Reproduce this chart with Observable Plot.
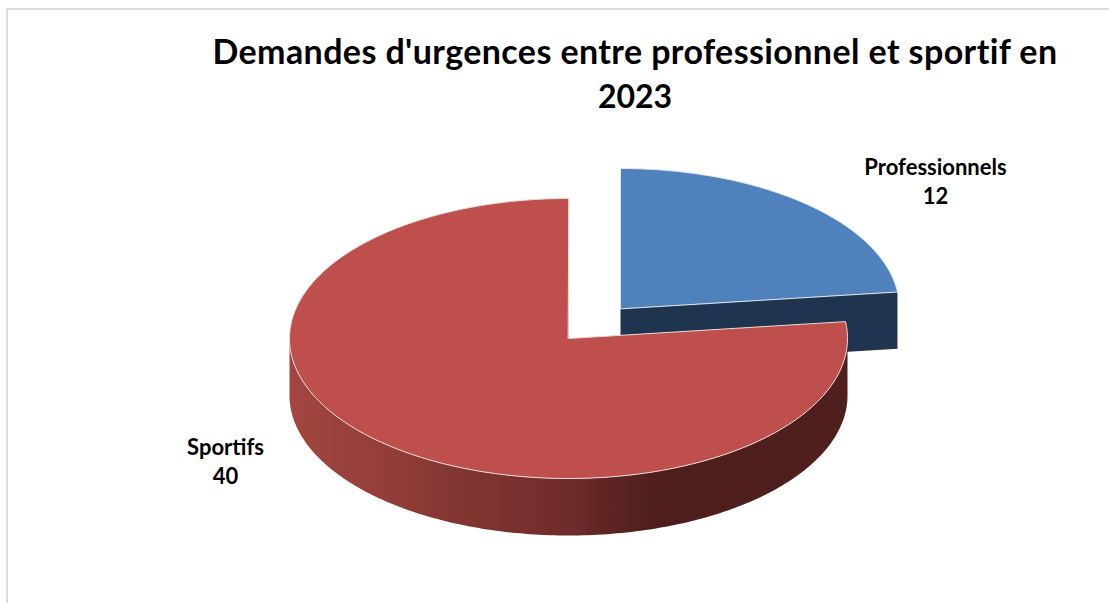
<!DOCTYPE html>
<html lang="fr">
<head>
<meta charset="utf-8">
<script src="https://cdn.jsdelivr.net/npm/d3@7"></script>
<script src="https://cdn.jsdelivr.net/npm/@observablehq/plot@0.6"></script>
<style>
  html, body { margin: 0; padding: 0; background: #fff; overflow: hidden; }
  #frame { position: absolute; left: 6px; top: 8px; width: 1103px; height: 595px;
           border-left: 2px solid #dcdcdc; border-top: 2px solid #dcdcdc; box-sizing: border-box; }
  #title { position: absolute; left: 0; top: 0; width: 1109px; height: 122px; box-sizing: border-box;
           padding: 29px 0 0 161px; text-align: center; font: 700 34px/44px Lato, sans-serif; letter-spacing: 0.4px; color: #000; }
  #title span { font-size: 32px; letter-spacing: 0; }
  #chart { position: absolute; left: 0; top: 122px; }
</style>
</head>
<body>
<div id="frame"></div>
<div id="title">Demandes d'urgences entre professionnel et sportif en<br><span>2023</span></div>
<div id="chart"></div>
<script>
const categories = ["Professionnels", "Sportifs"];
const values = [12, 40];
const topColors = ["#4F81BD", "#BE4F4C"];
const cutColor = "#1F344E";
const wallStops = [[0, "#A34540"], [0.18, "#933D39"], [0.29, "#843632"], [0.5, "#6F2C2A"], [0.59, "#5A2321"], [0.665, "#4D1E1C"], [1, "#4E1F1D"]];

const W = 1109, H = 481;
const rx = 279, ry = 140, depth = 57;
const centers = [{x: 620, y: 186}, {x: 568, y: 216}];
const labelOffsets = [{dx: 130, dy: -21}, {dx: -158, dy: 19}];
const labelGap = 14.5;

const total = d3.sum(values);
let acc = 0;
const slices = values.map((v, i) => {
  const a0 = acc / total * 2 * Math.PI;
  acc += v;
  return {name: categories[i], value: v, a0, a1: acc / total * 2 * Math.PI, c: centers[i], i};
});
const rim = (s, a, dz = 0) => ({x: s.c.x + rx * Math.sin(a), y: s.c.y - ry * Math.cos(a) + dz});
const arc = (s, from, to, dz = 0) => {
  const n = Math.max(2, Math.ceil(Math.abs(to - from) * 180 / Math.PI));
  return d3.range(n + 1).map(k => rim(s, from + (to - from) * k / n, dz));
};

const [blue, red] = slices;
const blueTop = [{x: blue.c.x, y: blue.c.y}, ...arc(blue, blue.a0, blue.a1)];
const redTop = [{x: red.c.x, y: red.c.y}, ...arc(red, red.a0, red.a1)];
const blueCut = [
  {x: blue.c.x, y: blue.c.y}, rim(blue, blue.a1),
  rim(blue, blue.a1, depth), {x: blue.c.x, y: blue.c.y + depth}
];
const wallStart = 0.5 * Math.PI, wallEnd = 1.5 * Math.PI;
const redWall = [...arc(red, wallStart, wallEnd), ...arc(red, wallEnd, wallStart, depth)];

const labels = slices.flatMap((s, i) => {
  const p = rim(s, (s.a0 + s.a1) / 2);
  const x = p.x + labelOffsets[i].dx, y = p.y + labelOffsets[i].dy;
  return [{x, y: y - labelGap, text: s.name}, {x, y: y + labelGap, text: String(s.value)}];
});

const gradient = () => {
  const g = d3.create("svg:linearGradient").attr("id", "wall");
  wallStops.forEach(([o, c]) => g.append("stop").attr("offset", o).attr("stop-color", c));
  const defs = d3.create("svg:defs");
  defs.append(() => g.node());
  return defs.node();
};

const poly = (pts, fill, stroke, strokeWidth = 1) =>
  Plot.line(pts, {x: "x", y: "y", curve: "linear-closed", fill, stroke: stroke || "none", strokeWidth});

const plot = Plot.plot({
  width: W, height: H,
  margin: 0,
  x: {domain: [0, W], range: [0, W], axis: null},
  y: {domain: [0, H], range: [0, H], axis: null},
  style: {background: "transparent", overflow: "visible"},
  marks: [
    gradient,
    poly(blueCut, cutColor),
    poly(blueTop, topColors[0], "#e4e9f0", 1),
    poly(redWall, "url(#wall)"),
    poly(redTop, topColors[1], "#ecdcdc", 1),
    Plot.text(labels, {
      x: "x", y: "y", text: "text",
      fontFamily: "Lato, sans-serif", fontWeight: 700, fontSize: 22, fill: "#000"
    })
  ]
});
document.getElementById("chart").append(plot);
</script>
</body>
</html>
